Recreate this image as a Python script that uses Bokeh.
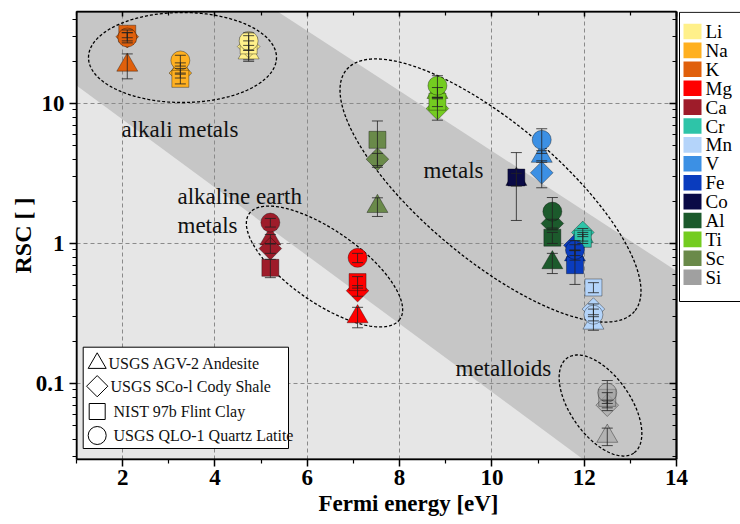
import math
import numpy as np
from bokeh.plotting import figure
from bokeh.models import (Range1d, FixedTicker, CustomJSTickFormatter, LogAxis, LinearAxis,
                          Whisker, TeeHead, ColumnDataSource)
from bokeh.core.properties import value
from bokeh.embed import file_html
from bokeh.resources import INLINE

# ---------------- data ----------------
elements = ["Li", "Na", "K", "Mg", "Ca", "Cr", "Mn", "V", "Fe", "Co", "Al", "Ti", "Sc", "Si"]
fermi_energy = [4.73, 3.25, 2.10, 7.09, 5.20, 11.97, 12.20, 11.08, 11.80, 10.53, 11.31, 8.82, 7.52, 12.50]

nan = float("nan")
rsc_agv2 = [23.0, 18.0, 18.8, 0.30, 1.08, 1.12, 0.27, 4.2, 0.83, 2.87, 0.73, 12.0, 1.84, 0.042]
rsc_sco1 = [25.5, 16.5, 30.0, 0.46, 0.92, 1.20, 0.34, 3.2, 0.97, nan, 1.39, 9.2, 4.0, 0.070]
rsc_nist97b = [26.0, 15.0, 31.5, 0.53, 0.67, 1.08, 0.485, nan, 0.70, 2.96, 1.10, 10.3, 5.5, 0.079]
rsc_qlo1 = [28.0, 20.3, 29.6, 0.79, 1.41, nan, 0.31, 5.5, 0.90, nan, 1.69, 13.4, nan, 0.086]

err_agv2 = [3.0, 1.5, 3.8, 0.05, 0.08, 0.08, 0.03, 0.4, 0.07, 0.3, 0.12, 1.0, 0.28, 0.006]
err_sco1 = [5.0, 1.3, 2.0, 0.04, 0.07, 0.08, 0.03, 0.7, 0.08, nan, 0.10, 1.6, 0.4, 0.006]
err_nist97b = [2.0, 1.2, 2.0, 0.05, 0.10, 0.08, 0.04, nan, 0.19, 1.5, 0.10, 0.8, 2.0, 0.007]
err_qlo1 = [4.0, 1.8, 2.5, 0.06, 0.10, nan, 0.03, 1.1, 0.08, nan, 0.44, 2.4, nan, 0.019]

sample_names = ["USGS AGV-2 Andesite", "USGS SCo-l Cody Shale", "NIST 97b Flint Clay",
                "USGS QLO-1 Quartz Latite"]

x_ticks = [2, 4, 6, 8, 10, 12, 14]
y_ticks = [0.1, 1, 10]

# ---------------- styles ----------------
PALETTE = {"Li": "#fff08a", "Na": "#ffb020", "K": "#e0600c", "Mg": "#ff0000", "Ca": "#9e1c2a",
           "Cr": "#2ec4a8", "Mn": "#b4d4fa", "V": "#3c90e4", "Fe": "#0a3cbe", "Co": "#0a0a46",
           "Al": "#1c5a2c", "Ti": "#74cc20", "Sc": "#6a8a4a", "Si": "#a0a0a0"}
ALPHA = {"Si": 0.5}
SERIF = "Liberation Serif"

X0, X1 = 1.0, 14.0
Y0, Y1 = 0.02865, 45.4
LOG0, LOG1 = math.log10(Y0), math.log10(Y1)

# reference-pixel geometry of the plotting box (used only for decorations)
FL, FT, FW, FH = 76.0, 11.0, 600.0, 448.0
W, H = 740, 524
X1_VIEW = X0 + (W - FL) / FW * (X1 - X0)   # frame extends to the right edge (for the colour key)


def to_data(px, py):
    px = np.asarray(px, dtype=float)
    py = np.asarray(py, dtype=float)
    x = X0 + (px - FL) / FW * (X1 - X0)
    ly = LOG1 - (py - FT) / FH * (LOG1 - LOG0)
    return x, 10 ** ly


p = figure(width=W, height=H, x_range=Range1d(X0, X1_VIEW), y_range=Range1d(Y0, Y1),
           y_axis_type="log", output_backend="svg", toolbar_location=None,
           min_border_left=int(FL), min_border_right=0,
           min_border_top=int(FT), min_border_bottom=int(H - FT - FH))

p.background_fill_color = "white"
p.border_fill_color = "white"
p.outline_line_color = None

# plotting box background and diagonal band
p.quad(left=[X0], right=[X1], bottom=[Y0], top=[Y1], fill_color="#e6e6e6", line_color=None,
       level="image")
bx, by = to_data([FL, FL + FW, FL + FW, FL], [-119.7, 270.4, 527.7, 84.9])
p.patch(bx, by, fill_color="#c6c6c6", line_color=None, level="image")

# grids
p.xgrid.ticker = FixedTicker(ticks=[2, 4, 6, 8, 10, 12])
p.xgrid.grid_line_color = "#8a8a8a"
p.xgrid.grid_line_dash = "4 3"
p.xgrid.grid_line_width = 1
p.ygrid.visible = False
for yt in y_ticks:
    p.line(x=[X0, X1], y=[yt, yt], line_color="#8a8a8a", line_dash="4 3", line_width=1,
           level="underlay")

# axes
minor_x = [1, 3, 5, 7, 9, 11, 13]
minor_y = [0.03, 0.04, 0.05, 0.06, 0.07, 0.08, 0.09, 0.2, 0.3, 0.4, 0.5, 0.6, 0.7, 0.8, 0.9,
           2, 3, 4, 5, 6, 7, 8, 9, 20, 30, 40]
xa = p.xaxis[0]
xa.ticker = FixedTicker(ticks=x_ticks, minor_ticks=minor_x)
xa.bounds = (X0, X1)
ya = p.yaxis[0]
ya.ticker = FixedTicker(ticks=y_ticks, minor_ticks=minor_y)
ya.formatter = CustomJSTickFormatter(code="return String(tick)")
for ax in (xa, ya):
    ax.axis_line_color = "black"
    ax.axis_line_width = 1.5
    ax.major_tick_line_color = "black"
    ax.minor_tick_line_color = "black"
    ax.major_tick_line_width = 1.5
    ax.minor_tick_line_width = 1.2
    ax.major_tick_in = 0
    ax.minor_tick_in = 0
    ax.major_tick_out = 7
    ax.minor_tick_out = 4
    ax.major_label_text_font = SERIF
    ax.major_label_text_font_style = "bold"
    ax.major_label_text_font_size = "23px"
    ax.major_label_text_color = "black"
    ax.axis_label_text_font = SERIF
    ax.axis_label_text_font_style = "bold"
    ax.axis_label_text_color = "black"
xa.major_label_standoff = 3
xa.axis_label = "Fermi energy [eV]"
xa.axis_label_text_font_size = "23px"
xa.axis_label_standoff = 3
ya.major_label_standoff = 5
ya.axis_label = "RSC [ ]"
ya.axis_label_text_font_size = "24px"
ya.axis_label_standoff = -3

ra = LogAxis(ticker=FixedTicker(ticks=y_ticks, minor_ticks=minor_y),
             formatter=CustomJSTickFormatter(code="return ''"), fixed_location=X1,
             major_tick_in=7, major_tick_out=0, minor_tick_in=4, minor_tick_out=0,
             axis_line_color="black", axis_line_width=1.5, major_tick_line_width=1.5,
             minor_tick_line_width=1.2, major_label_text_font_size="1px", major_label_standoff=0)
p.add_layout(ra, "right")
ta = LinearAxis(ticker=FixedTicker(ticks=x_ticks, minor_ticks=minor_x), bounds=(X0, X1),
                formatter=CustomJSTickFormatter(code="return ''"),
                major_tick_in=5, major_tick_out=0, minor_tick_in=4, minor_tick_out=0,
                axis_line_color="black", axis_line_width=1.5, major_tick_line_width=1.5,
                minor_tick_line_width=1.2, major_label_text_font_size="1px", major_label_standoff=0)
p.add_layout(ta, "above")

# ellipses (dashed) in reference-pixel space
ELLIPSES = [(182, 57, 94, 45, 0), (490, 190, 188, 68, 40), (324, 266, 92, 36, 35),
            (600, 405, 58, 30, 55)]
t = np.linspace(0, 2 * np.pi, 240)
for cx, cy, a, b, ang in ELLIPSES:
    th = math.radians(ang)
    epx = cx + a * np.cos(t) * math.cos(th) - b * np.sin(t) * math.sin(th)
    epy = cy + a * np.cos(t) * math.sin(th) + b * np.sin(t) * math.cos(th)
    ex, ey = to_data(epx, epy)
    p.line(ex, ey, line_color="black", line_dash="3 2", line_width=1.3)

# group labels
GROUP_LABELS = [("alkali metals", 121, 129), ("alkaline earth", 177, 196), ("metals", 177, 225),
                ("metals", 423, 170), ("metalloids", 455, 368)]
for txt, lx, ly in GROUP_LABELS:
    gx, gy = to_data([lx], [ly])
    p.text(x=[float(gx[0])], y=[float(gy[0])], text=[txt], text_font=value(SERIF),
           text_font_size="23px", text_align="left", text_baseline="middle", text_color="#111111")

# data markers
samples = [
    (rsc_agv2, err_agv2, "triangle", 21, 0.0),
    (rsc_sco1, err_sco1, "square", 16, math.pi / 4),
    (rsc_nist97b, err_nist97b, "square", 17, 0.0),
    (rsc_qlo1, err_qlo1, "circle", 19, 0.0),
]
whisker_sources = []
for vals, errs, marker, size, angle in samples:
    xs, ys, cs, als, up, lo = [], [], [], [], [], []
    for el, fx_, v, e in zip(elements, fermi_energy, vals, errs):
        if v != v:
            continue
        xs.append(fx_)
        ys.append(v)
        cs.append(PALETTE[el])
        als.append(ALPHA.get(el, 1.0))
        up.append(v + e)
        lo.append(v - e)
    src = ColumnDataSource(dict(x=xs, y=ys, c=cs, a=als, up=up, lo=lo))
    p.scatter("x", "y", source=src, marker=marker, size=size, angle=angle,
              fill_color="c", fill_alpha="a", line_color="black", line_alpha=0.35, line_width=1)
    whisker_sources.append(src)

for src in whisker_sources:
    w = Whisker(source=src, base="x", upper="up", lower="lo", dimension="height",
                line_color="#222222", line_width=1, line_alpha=0.8, level="annotation",
                upper_head=TeeHead(size=11, line_color="#222222", line_width=1, line_alpha=0.8),
                lower_head=TeeHead(size=11, line_color="#222222", line_width=1, line_alpha=0.8))
    p.add_layout(w)

# plotting-box outline
p.quad(left=[X0], right=[X1], bottom=[Y0], top=[Y1], fill_color=None, line_color="black",
       line_width=2)

# sample legend box (bottom left)
(lbx0, lbx1), (lby0, lby1) = to_data([82.7, 288.0], [448.0, 346.7])
p.quad(left=[lbx0], right=[lbx1], bottom=[lby0], top=[lby1], fill_color="white",
       line_color="black", line_width=1)
LEG_ROWS = [("triangle", 18, 0.0, 362.7, 108), ("square", 15, math.pi / 4, 385.7, 110),
            ("square", 16, 0.0, 411.0, 113), ("circle", 18, 0.0, 435.0, 113)]
for name, (mk, sz, an, ry, tx) in zip(sample_names, LEG_ROWS):
    mx, my = to_data([96.7], [ry])
    p.scatter([float(mx[0])], [float(my[0])], marker=mk, size=sz, angle=an,
              fill_color=None, line_color="black", line_width=1)
    txx, _ = to_data([tx], [ry])
    p.text(x=[float(txx[0])], y=[float(my[0])], text=[name], text_font=value(SERIF),
           text_font_size="16px", text_align="left", text_baseline="middle", text_color="#111111")

# element colour key (right, running off the edge as in the reference)
(kx0, kx1), (ky0, ky1) = to_data([679.0, 760.0], [301.0, 11.8])
p.quad(left=[kx0], right=[kx1], bottom=[ky0], top=[ky1], fill_color="white",
       line_color="black", line_width=1)
ROW0, ROWSTEP = 31.0, 18.9
for i, el in enumerate(elements):
    cy = ROW0 + i * ROWSTEP
    (sx0, sx1), (sy0, sy1) = to_data([683.0, 701.0], [cy + 7.8, cy - 7.8])
    p.quad(left=[sx0], right=[sx1], bottom=[sy0], top=[sy1], fill_color=PALETTE[el],
           line_color=None)
    (lx,), (ly,) = to_data([705.0], [cy])
    p.text(x=[lx], y=[ly], text=[el], text_font=value(SERIF), text_font_size="19px",
           text_align="left", text_baseline="middle", text_color="black")

open("out.html", "w").write(file_html(p, INLINE))
